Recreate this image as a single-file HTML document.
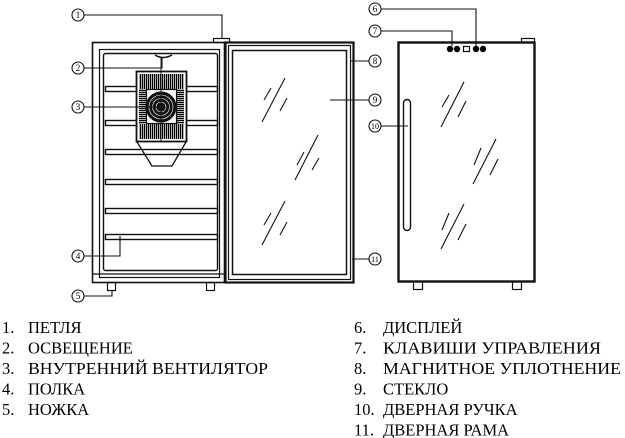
<!DOCTYPE html>
<html><head><meta charset="utf-8"><style>
html,body{margin:0;padding:0;background:#fff;}
svg{display:block;}
text{font-family:"Liberation Serif",serif;fill:#000;}
.c{font-size:9px;text-anchor:middle;}
.l{font-size:16.5px;}
</style></head><body>
<svg width="625" height="438" viewBox="0 0 625 438" xmlns="http://www.w3.org/2000/svg">
<defs>
<pattern id="vl" width="2" height="4" patternUnits="userSpaceOnUse"><rect width="1.3" height="4" fill="#000"/></pattern>
<pattern id="hl" width="4" height="2" patternUnits="userSpaceOnUse"><rect width="4" height="1.3" fill="#000"/></pattern>
</defs>
<g fill="none" stroke="#111">
<rect x="92.5" y="42.5" width="132" height="240" stroke-width="1.6"/>
<rect x="99.5" y="49.5" width="120" height="228" stroke-width="1.2"/>
<rect x="103.5" y="53.5" width="114" height="217" rx="2" stroke-width="1.4"/>
<line x1="92" y1="274" x2="224" y2="274" stroke-width="1.2"/>
<rect x="213.5" y="38.5" width="16" height="4" stroke-width="1.2"/>
<rect x="107.5" y="282.5" width="8" height="8" stroke-width="1.2"/>
<rect x="206.5" y="282.5" width="8" height="8" stroke-width="1.2"/>
<path d="M155 55 Q163 60 172 55" stroke-width="1.4"/>
<g stroke-width="1.4">
<rect x="105.5" y="86.5" width="112" height="5"/>
<rect x="105.5" y="120.5" width="112" height="5"/>
<rect x="105.5" y="149.5" width="112" height="5"/>
<rect x="105.5" y="179.5" width="112" height="5"/>
<rect x="105.5" y="208.5" width="112" height="5"/>
<rect x="105.5" y="234.5" width="112" height="5"/>
</g>
<rect x="136.5" y="71.5" width="50" height="70" fill="#fff" stroke-width="1.8"/>
<rect x="139" y="74" width="45" height="15" fill="url(#vl)" stroke="none"/>
<rect x="139" y="124" width="45" height="15" fill="url(#vl)" stroke="none"/>
<rect x="139" y="89" width="7" height="35" fill="url(#hl)" stroke="none"/>
<rect x="177" y="89" width="7" height="35" fill="url(#hl)" stroke="none"/>
<rect x="146.5" y="89.5" width="30" height="34" stroke-width="1.2"/>
<circle cx="161" cy="107" r="15" fill="#111"/>
<circle cx="161" cy="107" r="12" stroke="#fff" stroke-width="0.6"/>
<circle cx="161" cy="107" r="8.5" stroke="#fff" stroke-width="0.6"/>
<circle cx="161" cy="107" r="5" stroke="#fff" stroke-width="0.6"/>
<line x1="161" y1="58" x2="161" y2="142" stroke-width="0.9"/>
<path d="M137 142 L152 166 L172 166 L186 142" stroke-width="1.3"/>
<rect x="225.5" y="42.5" width="128" height="240" stroke-width="2.2"/>
<rect x="228.5" y="45.5" width="122" height="234" stroke-width="1.2"/>
<rect x="232.5" y="50.5" width="114" height="224" stroke-width="1.5"/>
<g stroke-width="1.1">
<path d="M264 100 L271 88 M262 122 L285 78 M280 111 L287 98"/>
<path d="M297 165 L304 152 M295 180 L318 135 M312 170 L319 158"/>
<path d="M264 225 L271 213 M262 245 L285 201 M280 235 L287 222"/>
</g>
<rect x="398.5" y="42.5" width="136" height="239" stroke-width="2.4"/>
<rect x="521.5" y="38.5" width="13" height="4" stroke-width="1.2"/>
<rect x="413.5" y="281.5" width="9" height="8" stroke-width="1.2"/>
<rect x="512.5" y="281.5" width="9" height="8" stroke-width="1.2"/>
<rect x="403.5" y="99.5" width="7" height="131" rx="3.5" stroke-width="1.4"/>
<rect x="463.5" y="46.5" width="6" height="5" stroke-width="1.2"/>
<g stroke-width="1.1">
<path d="M442 107 L449 95 M441 127 L464 82 M458 117 L466 101"/>
<path d="M474 165 L481 148 M473 184 L496 139 M490 175 L498 159"/>
<path d="M442 230 L449 213 M441 249 L464 204 M458 240 L466 224"/>
</g>
<g stroke-width="1.1">
<path d="M84 15 H222 V38"/>
<path d="M84 68 H162 V58"/>
<path d="M84 107 H160"/>
<path d="M84 256 H120 V236"/>
<path d="M84 296 H112 V290"/>
<path d="M351 61 H369"/>
<path d="M330 100 H369"/>
<path d="M352 259 H369"/>
<path d="M381 9 H476 V46"/>
<path d="M381 31 H452 V46"/>
<path d="M381 126 H408"/>
</g>
<g stroke-width="1.1" fill="#fff">
<circle cx="78" cy="15" r="6"/><circle cx="78" cy="68" r="6"/><circle cx="78" cy="107" r="6"/>
<circle cx="78" cy="256" r="6"/><circle cx="78" cy="296" r="6"/>
<circle cx="375" cy="61" r="6"/><circle cx="375" cy="100" r="6"/><circle cx="375" cy="259" r="6"/>
<circle cx="375" cy="9" r="6"/><circle cx="375" cy="31" r="6"/><circle cx="375" cy="126" r="6"/>
</g>
</g>
<g fill="#000">
<circle cx="450" cy="49" r="3.2"/><circle cx="457" cy="49" r="3.2"/>
<circle cx="476" cy="49" r="3.2"/><circle cx="483" cy="49" r="3.2"/>
</g>
<g class="c">
<text x="78" y="18">1</text><text x="78" y="71">2</text><text x="78" y="110">3</text>
<text x="78" y="259">4</text><text x="78" y="299">5</text>
<text x="375" y="12">6</text><text x="375" y="34">7</text><text x="375" y="64">8</text>
<text x="375" y="103">9</text><text x="375" y="129" style="font-size:8px">10</text><text x="375" y="262" style="font-size:8px">11</text>
</g>
<g class="l">
<text x="2" y="333">1.</text><text x="28" y="333">ПЕТЛЯ</text>
<text x="2" y="353.5">2.</text><text x="28" y="353.5">ОСВЕЩЕНИЕ</text>
<text x="2" y="374">3.</text><text x="28" y="374" textLength="240" lengthAdjust="spacingAndGlyphs">ВНУТРЕННИЙ ВЕНТИЛЯТОР</text>
<text x="2" y="394.5">4.</text><text x="28" y="394.5">ПОЛКА</text>
<text x="2" y="415">5.</text><text x="28" y="415">НОЖКА</text>
<text x="354" y="333">6.</text><text x="383" y="333">ДИСПЛЕЙ</text>
<text x="354" y="353.5">7.</text><text x="383" y="353.5" textLength="218" lengthAdjust="spacingAndGlyphs">КЛАВИШИ УПРАВЛЕНИЯ</text>
<text x="354" y="374">8.</text><text x="383" y="374" textLength="238" lengthAdjust="spacingAndGlyphs">МАГНИТНОЕ УПЛОТНЕНИЕ</text>
<text x="354" y="394.5">9.</text><text x="383" y="394.5">СТЕКЛО</text>
<text x="354" y="415">10.</text><text x="383" y="415">ДВЕРНАЯ РУЧКА</text>
<text x="354" y="435.5">11.</text><text x="383" y="435.5">ДВЕРНАЯ РАМА</text>
</g>
</svg>
</body></html>
